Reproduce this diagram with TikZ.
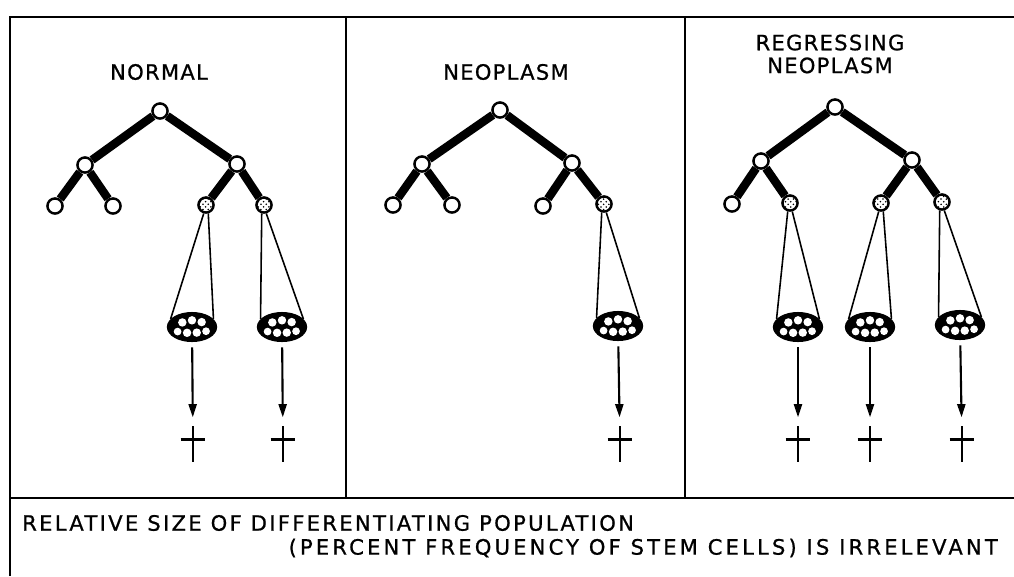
\documentclass[tikz,border=0pt]{standalone}
\usepackage{fontspec}
\setmainfont{DejaVu Sans}
\newfontfamily\lettering[LetterSpace=6, FakeBold=0.8]{DejaVu Sans}
\newfontfamily\captionlettering[LetterSpace=11, FakeBold=0.8]{DejaVu Sans}
\newfontfamily\widelettering[LetterSpace=15, FakeBold=0.8]{DejaVu Sans}
\usetikzlibrary{
    shapes.geometric,
    arrows.meta,
    positioning,
    calc,
    patterns
}

\tikzset{
    frame/.style={line width=1.2pt},
    stemcell/.style={circle, draw, fill=white, line width=1.4pt, minimum size=8.6pt, inner sep=0pt},
    diffcell/.style={stemcell, pattern=crosshatch dots},
    branch/.style={line width=4.8pt},
    cone/.style={line width=0.9pt},
    mass/.style={ellipse, draw, fill=black, line width=1.6pt, minimum width=27pt, minimum height=15.5pt, inner sep=0pt,
        path picture={
            \fill[white] (path picture bounding box.center)
                +(-5.5pt,2.6pt) circle (2.4pt) +(0pt,3.8pt) circle (2.4pt) +(5.5pt,2.8pt) circle (2.4pt)
                +(-8.2pt,-2.6pt) circle (2.2pt) +(-2.8pt,-3.3pt) circle (2.4pt)
                +(2.7pt,-3.2pt) circle (2.4pt) +(8pt,-2.4pt) circle (2.2pt);
        }},
    fate/.style={-{Triangle[length=7.5pt,width=4.6pt]}, line width=1.2pt, shorten <=3pt, shorten >=5pt},
    dead/.style={minimum width=14pt, minimum height=20pt, inner sep=0pt,
        path picture={
            \draw[line width=1.4pt] (path picture bounding box.north) -- (path picture bounding box.south)
                ($(path picture bounding box.north west)!0.37!(path picture bounding box.south west)$)
                -- ($(path picture bounding box.north east)!0.37!(path picture bounding box.south east)$);
        }},
    label/.style={font=\lettering\fontsize{12}{13}\selectfont, align=center},
    caption/.style={font=\captionlettering\fontsize{12}{13}\selectfont}
}

\begin{document}
\begin{tikzpicture}[x=0.2mm, y=-0.2mm]
    \useasboundingbox (0,0) rectangle (1014,576);

    % Frame and panel dividers
    \draw[frame] (10,576) -- (10,17) -- (1014,17);
    \draw[frame] (346,17) -- (346,498);
    \draw[frame] (685,17) -- (685,498);
    \draw[frame] (10,498) -- (1014,498);

    % Panel titles
    \node[label] (normTitle) at (159,72) {NORMAL};
    \node[label] (neoTitle) at (506,72) {NEOPLASM};
    \node[label] (regTitle) at (830,54) {REGRESSING\\NEOPLASM};

    % Normal
    \node[stemcell] (norm0) at (160,111) {};
    \node[stemcell] (normL) at (85,165) {};
    \node[stemcell] (normR) at (237,164) {};
    \node[stemcell] (normLL) at (55,206) {};
    \node[stemcell] (normLR) at (113,206) {};
    \node[diffcell] (normRL) at (206,205) {};
    \node[diffcell] (normRR) at (264,205) {};
    \node[mass] (normM1) at (192,327) {};
    \node[mass] (normM2) at (282,327) {};
    \node[dead] (normD1) at (193,444) {};
    \node[dead] (normD2) at (283,444) {};
    \draw[branch] (norm0) -- (normL) (norm0) -- (normR)
        (normL) -- (normLL) (normL) -- (normLR)
        (normR) -- (normRL) (normR) -- (normRR);
    \draw[cone] (normRL.255) -- (normM1.160) (normRL.285) -- (normM1.20);
    \draw[cone] (normRR.255) -- (normM2.160) (normRR.285) -- (normM2.20);
    \draw[fate] (normM1) -- (normD1);
    \draw[fate] (normM2) -- (normD2);

    % Neoplasm
    \node[stemcell] (neo0) at (500,110) {};
    \node[stemcell] (neoL) at (422,164) {};
    \node[stemcell] (neoR) at (572,163) {};
    \node[stemcell] (neoLL) at (393,205) {};
    \node[stemcell] (neoLR) at (452,205) {};
    \node[stemcell] (neoRL) at (543,206) {};
    \node[diffcell] (neoRR) at (604,204) {};
    \node[mass] (neoM) at (618,326) {};
    \node[dead] (neoD) at (620,444) {};
    \draw[branch] (neo0) -- (neoL) (neo0) -- (neoR)
        (neoL) -- (neoLL) (neoL) -- (neoLR)
        (neoR) -- (neoRL) (neoR) -- (neoRR);
    \draw[cone] (neoRR.255) -- (neoM.160) (neoRR.285) -- (neoM.20);
    \draw[fate] (neoM) -- (neoD);

    % Regressing neoplasm
    \node[stemcell] (reg0) at (835,107) {};
    \node[stemcell] (regL) at (761,161) {};
    \node[stemcell] (regR) at (912,160) {};
    \node[stemcell] (regLL) at (732,204) {};
    \node[diffcell] (regLR) at (790,203) {};
    \node[diffcell] (regRL) at (881,203) {};
    \node[diffcell] (regRR) at (942,202) {};
    \node[mass] (regM1) at (798,327) {};
    \node[mass] (regM2) at (870,327) {};
    \node[mass] (regM3) at (960,325) {};
    \node[dead] (regD1) at (798,444) {};
    \node[dead] (regD2) at (870,444) {};
    \node[dead] (regD3) at (962,444) {};
    \draw[branch] (reg0) -- (regL) (reg0) -- (regR)
        (regL) -- (regLL) (regL) -- (regLR)
        (regR) -- (regRL) (regR) -- (regRR);
    \draw[cone] (regLR.255) -- (regM1.160) (regLR.285) -- (regM1.20);
    \draw[cone] (regRL.255) -- (regM2.160) (regRL.285) -- (regM2.20);
    \draw[cone] (regRR.255) -- (regM3.160) (regRR.285) -- (regM3.20);
    \draw[fate] (regM1) -- (regD1);
    \draw[fate] (regM2) -- (regD2);
    \draw[fate] (regM3) -- (regD3);

    % Caption
    \node[caption, anchor=west] (caption1) at (16,523) {RELATIVE SIZE OF DIFFERENTIATING POPULATION};
    \node[caption, font=\widelettering\fontsize{12}{13}\selectfont, anchor=east] (caption2) at (1004,548) {(PERCENT FREQUENCY OF STEM CELLS) IS IRRELEVANT};
\end{tikzpicture}
\end{document}
